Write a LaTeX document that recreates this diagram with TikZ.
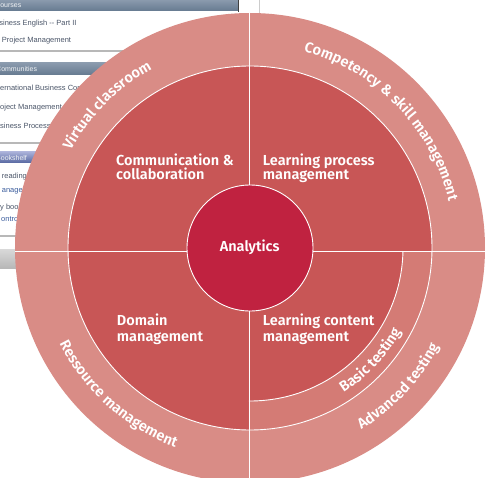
\documentclass[tikz,border=0pt]{standalone}
\usepackage{fontspec}
\usetikzlibrary{decorations.text}
\IfFontExistsTF{Fira Sans SemiBold}
  {\newfontfamily\labfont{Fira Sans SemiBold}}
  {\newfontfamily\labfontX{Fira Sans}\newcommand\labfont{\labfontX\bfseries}}
\newfontfamily\uifont{Liberation Sans}
\definecolor{ringout}{HTML}{D98C86}
\definecolor{ringmid}{HTML}{C85656}
\definecolor{ringbasic}{HTML}{D47B75}
\definecolor{core}{HTML}{C02240}
\definecolor{uibartop}{HTML}{8A9AAD}
\definecolor{uibarbot}{HTML}{667A90}
\definecolor{uitext}{HTML}{4A5568}
\definecolor{uilink}{HTML}{3A5C9C}
\definecolor{uiline}{HTML}{B8B8B8}
\begin{document}
\begin{tikzpicture}[x=1pt,y=1pt,
  divider/.style={white, line width=0.9pt},
  quadlabel/.style={anchor=base west, inner sep=0pt, text=white,
    font=\labfont\fontsize{14.5}{14.5}\selectfont},
  corelabel/.style={anchor=base, inner sep=0pt, text=white,
    font=\labfont\fontsize{14.5}{14.5}\selectfont},
  uibar/.style={top color=uibartop, bottom color=uibarbot},
  uibartext/.style={anchor=base west, inner sep=0pt, text=white!88!uibartop,
    font=\uifont\fontsize{7}{7}\selectfont},
  uiitem/.style={anchor=base west, inner sep=0pt, text=uitext,
    font=\uifont\fontsize{7.5}{7.5}\selectfont},
  uilinkitem/.style={uiitem, text=uilink},
  uirule/.style={uiline, line width=1.4pt},
  ringtext/.style={decorate, decoration={text along path, text align=center,
    text={|\labfont\fontsize{14.6}{14.6}\selectfont\color{white}|#1}}}
]
\useasboundingbox (-250,-229) rectangle (243,248);
% ---------- screenshot in the background ----------
\fill[uibar] (-250,248) rectangle (-11,237);
\draw[black!75, line width=1pt] (-11.5,248) -- (-11.5,236);
\draw[black!20, line width=0.8pt] (9,248) -- (9,234);
\node[uibartext] (courses) at (-255,240) {Courses};
\node[uiitem] (ui1) at (-260,222) {Business English -- Part II};
\node[uiitem] (ui2) at (-248.3,205) {Project Management};
\draw[uirule] (-250,197) -- (-11,197);
\fill[uibar] (-250,185) rectangle (-11,173);
\node[uibartext] (communities) at (-254,176) {Communities};
\node[uiitem] (ui3) at (-258.3,157) {International Business Communication};
\node[uiitem] (ui4) at (-257.5,138) {Project Management};
\node[uiitem] (ui5) at (-259.2,119) {Business Process Management};
\draw[uirule] (-250,105) -- (-11,105);
\fill[top color=uibartop!80!blue!60!white, bottom color=uibarbot!85!blue] (-250,96) rectangle (-11,85);
\node[uibartext] (bookshelf) at (-254,88) {Bookshelf};
\node[uiitem] (ui6) at (-248.3,70) {reading};
\node[uilinkitem] (ui7) at (-248.3,56) {anager};
\node[uiitem] (ui8) at (-250,39) {y book};
\node[uilinkitem] (ui9) at (-249,27) {ontrol};
\draw[uirule] (-250,12) -- (-11,12);
\fill[top color=black!15, bottom color=black!28] (-250,-1) rectangle (-11,-20);
% ---------- circle diagram ----------
\fill[ringout] (0,0) circle (235);
\fill[ringmid] (0,0) circle (182);
\begin{scope}
  \clip (-1,-3.5) rectangle (240,-240);
  \fill[ringbasic] (0,0) circle (182);
  \fill[ringmid] (0,0) circle (153);
  \draw[divider] (0,0) circle (153);
\end{scope}
\draw[divider] (0,0) circle (182);
\begin{scope}
  \clip (0,0) circle (235);
  \draw[divider] (-1,240) -- (-1,-240);
  \draw[divider] (-240,-3.5) -- (240,-3.5);
\end{scope}
\fill[core] (0,0) circle (63);
\draw[divider] (0,0) circle (63);
% ---------- labels ----------
\node[corelabel] (analytics) at (-0.3,-3.7) {Analytics};
\node[quadlabel] (comm1) at (-134,82.3) {Communication \&};
\node[quadlabel] (comm2) at (-134,68) {collaboration};
\node[quadlabel] (proc1) at (12.7,82.3) {Learning process};
\node[quadlabel] (proc2) at (12.7,68) {management};
\node[quadlabel] (dom1) at (-133.3,-77.7) {Domain};
\node[quadlabel] (dom2) at (-133.3,-93) {management};
\node[quadlabel] (cont1) at (12.7,-77.7) {Learning content};
\node[quadlabel] (cont2) at (12.7,-93) {management};
% ---------- curved ring labels ----------
\path[ringtext={Virtual classroom}] (180:204) arc[start angle=180, end angle=90, radius=204];
\path[ringtext={Competency {\&} skill management}] (89:204) arc[start angle=89, end angle=-1, radius=204];
\path[ringtext={Ressource management}] (183:213) arc[start angle=183, end angle=273, radius=213];
\path[ringtext={Advanced testing}] (-88:213) arc[start angle=-88, end angle=2, radius=213];
\path[ringtext={Basic testing}] (-88:172.5) arc[start angle=-88, end angle=2, radius=172.5];
\end{tikzpicture}
\end{document}
